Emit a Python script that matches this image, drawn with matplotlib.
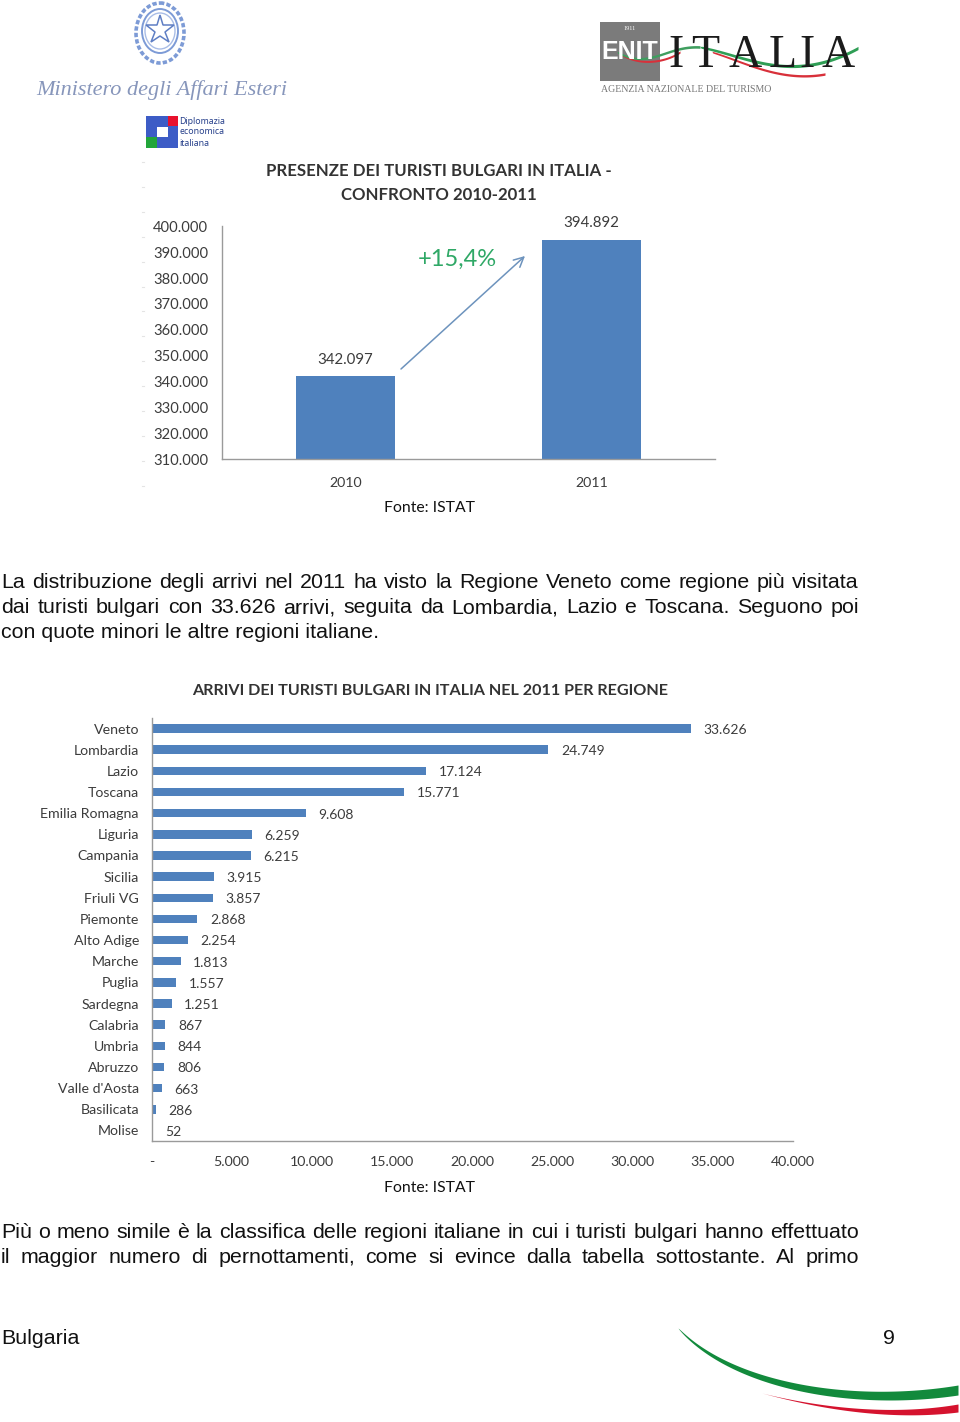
# Bulgaria page: two ISTAT bar charts with the surrounding page text and logos
import numpy as np
from matplotlib import pyplot as plt
from matplotlib.patches import Ellipse, Rectangle

W, H = 960, 1422

years = ["2010", "2011"]
presenze = [342097, 394892]
presenze_ticks = [310000, 320000, 330000, 340000, 350000, 360000, 370000, 380000, 390000, 400000]

regioni = ["Veneto", "Lombardia", "Lazio", "Toscana", "Emilia Romagna", "Liguria", "Campania",
           "Sicilia", "Friuli VG", "Piemonte", "Alto Adige", "Marche", "Puglia", "Sardegna",
           "Calabria", "Umbria", "Abruzzo", "Valle d'Aosta", "Basilicata", "Molise"]
arrivi = [33626, 24749, 17124, 15771, 9608, 6259, 6215, 3915, 3857, 2868, 2254, 1813, 1557,
          1251, 867, 844, 806, 663, 286, 52]
arrivi_ticks = [0, 5000, 10000, 15000, 20000, 25000, 30000, 35000, 40000]

para1 = ["La distribuzione degli arrivi nel 2011 ha visto la Regione Veneto come regione più visitata",
         "dai turisti bulgari con 33.626 arrivi, seguita da Lombardia, Lazio e Toscana. Seguono poi",
         "con quote minori le altre regioni italiane."]
para2 = ["Più o meno simile è la classifica delle regioni italiane in cui i turisti bulgari hanno effettuato",
         "il maggior numero di pernottamenti, come si evince dalla tabella sottostante. Al primo"]

BLUE = "#4f81bd"
AXIS = "#9a9a9a"
LABEL = "#3c3c3c"
CHART_FONT = "Lato"
BODY_FONT = "Liberation Sans"
BODY_SIZE = 15.4


def dots(n):
    return f"{n:,}".replace(",", ".")


def px_axes(left, top, right, bottom):
    return fig.add_axes([left / W, 1 - bottom / H, (right - left) / W, (bottom - top) / H])


def justified(line, y, x0=1, x1=859, size=BODY_SIZE):
    """Spreads the words of one line between x0 and x1"""
    words = line.split(" ")
    items = [page.text(0, y, w, fontsize=size, family=BODY_FONT, color="#111111", va="baseline") for w in words]
    renderer = fig.canvas.get_renderer()
    widths = [t.get_window_extent(renderer).width for t in items]
    gap = (x1 - x0 - sum(widths)) / (len(words) - 1)
    x = x0
    for t, w in zip(items, widths):
        t.set_x(x)
        x += w + gap


def swoosh(p0, p1, p2, p3, width, color, power=0.8):
    """Tapered ribbon along a cubic curve"""
    t = np.linspace(0, 1, 120)
    x = (1-t)**3*p0[0] + 3*(1-t)**2*t*p1[0] + 3*(1-t)*t**2*p2[0] + t**3*p3[0]
    y = (1-t)**3*p0[1] + 3*(1-t)**2*t*p1[1] + 3*(1-t)*t**2*p2[1] + t**3*p3[1]
    half = width * t**power / 2
    page.fill_between(x, y - half, y + half, color=color, lw=0)


fig = plt.figure(figsize=(W / 100, H / 100), dpi=100, facecolor="white")

# Page layer, in pixels
page = fig.add_axes([0, 0, 1, 1])
page.set_xlim(0, W)
page.set_ylim(H, 0)
page.axis("off")

# Ministry logo
emblem = "#7d9bd6"
page.add_patch(Ellipse((160, 33), 48, 60, fill=False, ec=emblem, lw=2.6, ls=(0, (1.2, 0.6))))
page.add_patch(Ellipse((160, 31), 36, 44, fill=False, ec=emblem, lw=1.4))
page.add_patch(Ellipse((160, 31), 30, 36, fill=False, ec="#a9bde6", lw=1.0))
page.plot([160], [30], marker="*", ms=21, mfc="white", mec="#5f7fc4", mew=1.1)
page.text(162, 90, "Ministero degli Affari Esteri", family="Liberation Serif", style="italic",
          fontsize=16, color="#8796bb", ha="center", va="center")

# Diplomazia economica logo
page.add_patch(Rectangle((146, 116), 32, 32, fc="#3d5cc6", lw=0))
page.add_patch(Rectangle((168, 116), 10, 10, fc="#e8112d", lw=0))
page.add_patch(Rectangle((146, 137), 11, 11, fc="#22a53a", lw=0))
page.add_patch(Rectangle((157, 127), 11, 10, fc="white", lw=0))
for y, s in zip([121, 132, 144], ["Diplomazia", "economica", "italiana"]):
    page.text(179, y, s, family="Noto Sans", fontsize=6.3, color="#27408b", va="center")

# ENIT logo
page.add_patch(Rectangle((600, 22), 60, 59, fc="#7b7b7b", lw=0))
page.text(630, 29, "1911", family="Liberation Serif", fontsize=4.5, color="white", ha="center", va="center")
page.text(630, 52, "ENIT", family=["Liberation Sans Narrow", "Liberation Sans"], weight="bold", fontsize=18,
          color="white", ha="center", va="center")
for x, s in zip([676, 705, 745, 783, 807, 838], "ITALIA"):
    page.text(x, 67, s, family="Liberation Serif", fontsize=33, color="#1b1b1b", ha="center", va="baseline")
swoosh((620, 54), (640, 66), (665, 62), (680, 52), 2.2, "#d8303a", power=0.1)
swoosh((712, 52), (745, 62), (780, 82), (825, 74), 2.4, "#d8303a", power=0.1)
swoosh((617, 52), (650, 70), (665, 45), (700, 47), 2.6, "#3f9e5f", power=0.1)
swoosh((700, 47), (745, 55), (790, 85), (858, 48), 3.2, "#2f9e55", power=0.1)
page.text(686, 90, "AGENZIA NAZIONALE DEL TURISMO", family="Liberation Serif", fontsize=7.1,
          color="#777777", ha="center", va="center")

# Scan specks down the left of the first chart
for y in np.arange(162, 490, 24.9):
    page.plot([142, 144], [y, y], color="#e4e4e4", lw=0.8)

# First chart
page.text(439, 171, "PRESENZE DEI TURISTI BULGARI IN ITALIA -", family=CHART_FONT, weight="bold",
          fontsize=12.1, color="#333333", ha="center", va="center")
page.text(439, 195, "CONFRONTO 2010-2011", family=CHART_FONT, weight="bold", fontsize=12.1,
          color="#333333", ha="center", va="center")

ax1 = px_axes(222, 226.3, 715, 459.3)
ax1.patch.set_alpha(0)
ax1.bar(range(2), presenze, width=0.4, color=BLUE)
ax1.set_xlim(-0.5, 1.5)
ax1.set_ylim(310000, 400000)
ax1.set_yticks(presenze_ticks, [dots(v) for v in presenze_ticks])
ax1.set_xticks(range(2), years)
for v, i in zip(presenze, range(2)):
    ax1.annotate(dots(v), (i, v), xytext=(0, 6.5), textcoords="offset points", ha="center", va="bottom",
                 fontsize=10.8, family=CHART_FONT, color=LABEL, annotation_clip=False)

page.annotate("", xy=(525, 256), xytext=(401, 369),
              arrowprops=dict(arrowstyle="->,head_length=0.7,head_width=0.35", color="#6d93bd", lw=1.1,
                              shrinkA=0, shrinkB=0))
page.text(457, 259, "+15,4%", family=CHART_FONT, fontsize=17, color="#2fa866", ha="center", va="center")
page.text(430, 508, "Fonte: ISTAT", family=CHART_FONT, fontsize=11.3, color="#111111", ha="center", va="center")

# Second chart
page.text(430, 691, "ARRIVI DEI TURISTI BULGARI IN ITALIA NEL 2011 PER REGIONE", family=CHART_FONT,
          weight="bold", fontsize=11.6, color="#333333", ha="center", va="center")

ax2 = px_axes(151.5, 718, 793, 1141)
ax2.patch.set_alpha(0)
pos = np.arange(len(regioni))
ax2.barh(pos, arrivi, height=0.4, color=BLUE)
ax2.set_xlim(0, 40000)
ax2.set_ylim(len(regioni) - 0.5, -0.5)
ax2.set_yticks(pos, regioni)
ax2.set_xticks(arrivi_ticks, ["-"] + [dots(v) for v in arrivi_ticks[1:]])
for i, v in zip(pos, arrivi):
    ax2.annotate(dots(v), (v, i), xytext=(9, -1), textcoords="offset points", ha="left", va="center",
                 fontsize=10, family=CHART_FONT, color=LABEL)
page.text(430, 1188, "Fonte: ISTAT", family=CHART_FONT, fontsize=11.3, color="#111111", ha="center", va="center")

for ax in (ax1, ax2):
    ax.spines[["top", "right"]].set_visible(False)
    ax.spines[["left", "bottom"]].set_color(AXIS)
    ax.spines[["left", "bottom"]].set_linewidth(1.0)
    ax.tick_params(length=0, labelsize=10.2, labelcolor=LABEL)
    for lab in ax.get_xticklabels() + ax.get_yticklabels():
        lab.set_family(CHART_FONT)
ax1.tick_params(axis="y", pad=10, labelsize=10.6)
ax1.tick_params(axis="x", pad=13)
ax2.tick_params(axis="y", pad=9)
ax2.tick_params(axis="x", pad=10.5)

# Page text
for y, line in zip([588.5, 613], para1):
    justified(line, y)
page.text(1, 637.5, para1[2], fontsize=BODY_SIZE, family=BODY_FONT, color="#111111", va="baseline")
for y, line in zip([1238.5, 1263], para2):
    justified(line, y)

# Footer
page.text(1, 1344, "Bulgaria", fontsize=BODY_SIZE, family=BODY_FONT, color="#111111", va="baseline")
page.text(889, 1344, "9", fontsize=BODY_SIZE, family=BODY_FONT, color="#111111", ha="center", va="baseline")
swoosh((678, 1328), (730, 1385), (850, 1407), (958, 1390), 10, "#128a3c", power=0.55)
swoosh((762, 1393), (820, 1408), (890, 1418), (958, 1408), 8, "#d5132e", power=1.2)

fig.savefig("out.png", dpi=100)
